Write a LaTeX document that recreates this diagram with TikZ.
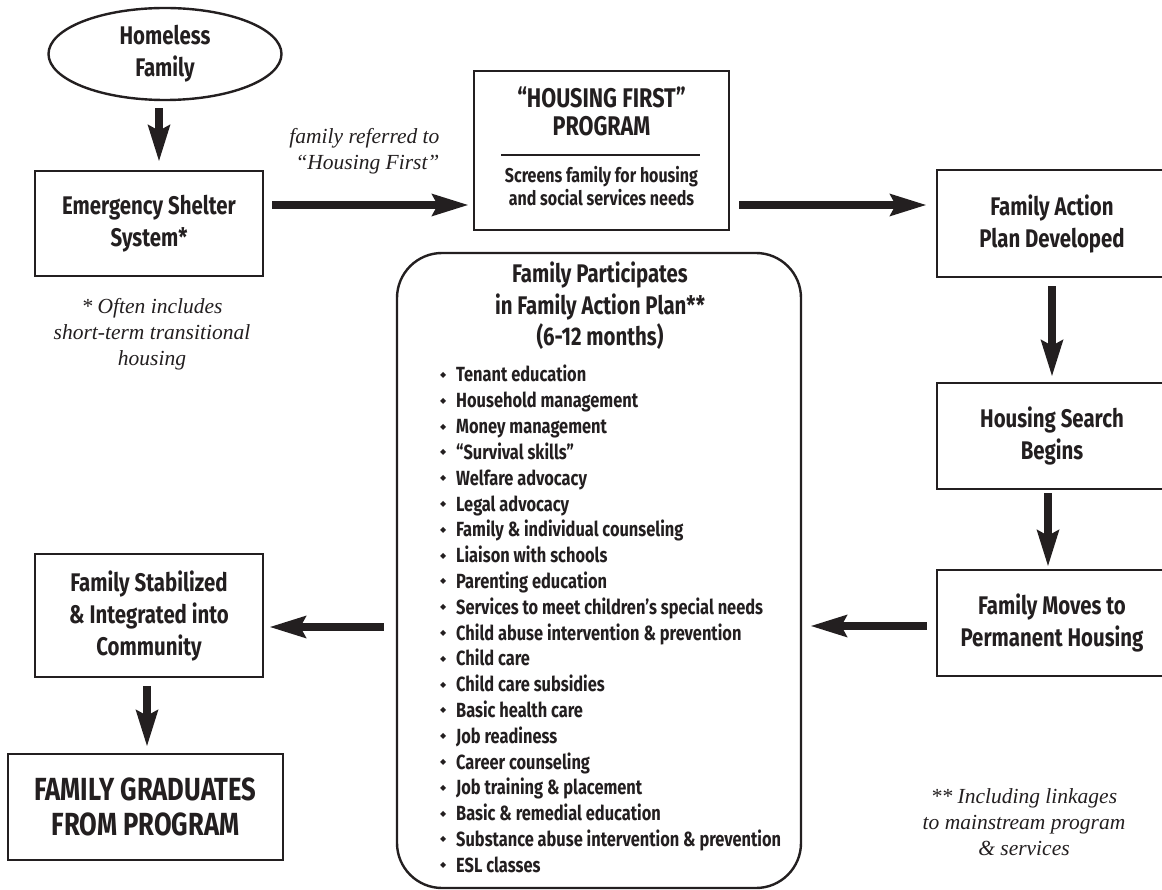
\documentclass[tikz,border=0pt]{standalone}
\usepackage{fontspec}
\setmainfont{Liberation Serif}
\newfontfamily\cond{Fira Sans}[FakeStretch=0.8]
\newfontfamily\symf{DejaVu Sans}
\usetikzlibrary{arrows.meta,shapes.geometric}
\definecolor{ink}{HTML}{231F20}
\newcommand\bul{\makebox[16pt][l]{\raisebox{4.5pt}{\symf\fontsize{8}{8}\selectfont ◆}}}
\tikzset{
 box/.style={draw=ink, line width=2.4pt, rectangle, inner sep=0pt},
 head/.style={font=\cond\bfseries\fontsize{25.5}{32}\selectfont, align=center, text=ink},
 subhead/.style={font=\cond\bfseries\fontsize{20}{22.5}\selectfont, align=center, text=ink},
 note/.style={font=\itshape\fontsize{21.5}{26}\selectfont, align=center, text=ink},
 bigarrow/.style={draw=ink, line width=8pt, -{Stealth[length=36pt,width=21pt,inset=5pt]}},
 item/.style={font=\cond\bfseries\fontsize{20.5}{22}\selectfont, anchor=base west, inner sep=0pt, text=ink},
}
\begin{document}
\begin{tikzpicture}[x=1pt,y=-1pt]
\useasboundingbox (0,0) rectangle (1162,890);
\clip (0,0) rectangle (1162,890);
\fill[white] (0,0) rectangle (1162,890);

% nodes
\node[ellipse, draw=ink, line width=2.4pt, minimum width=233pt, minimum height=92pt, inner sep=0pt, head] (home) at (165,54) {Homeless\\Family};
\node[box, minimum width=228pt, minimum height=105pt, head] (es) at (149,223.5) {Emergency Shelter\\System*};
\node[note] (esnote) at (152,334) {* Often includes\\short-term transitional\\housing};
\node[note, align=right, anchor=east] (ref) at (443,151) {family referred to\\“Housing First”};

\node[box, minimum width=255pt, minimum height=159pt] (hf) at (601.5,150.5) {};
\node[head, font=\cond\bfseries\fontsize{27}{28}\selectfont] (hft) at (601.5,111) {“HOUSING FIRST”\\PROGRAM};
\draw[ink, line width=1.8pt] (501,155) -- (700,155);
\node[subhead] (hfs) at (601.5,186) {Screens family for housing\\and social services needs};

\node[box, minimum width=230pt, minimum height=107pt, head] (fap) at (1052,223.5) {Family Action\\Plan Developed};
\node[box, minimum width=230pt, minimum height=106pt, head] (hsb) at (1052,436) {Housing Search\\Begins};
\node[box, minimum width=230pt, minimum height=106pt, head] (fmp) at (1052,623) {Family Moves to\\Permanent Housing};

\node[box, rounded corners=45pt, minimum width=404pt, minimum height=635pt] (fp) at (599,570.5) {};
\node[head, font=\cond\bfseries\fontsize{25.5}{31.5}\selectfont] (fpt) at (600,306) {Family Participates\\in Family Action Plan**\\(6-12 months)};
\foreach [count=\i] \t in {Tenant education, Household management, Money management, “Survival skills”, Welfare advocacy, Legal advocacy, Family \& individual counseling, Liaison with schools, Parenting education, Services to meet children’s special needs, Child abuse intervention \& prevention, Child care, Child care subsidies, Basic health care, Job readiness, Career counseling, Job training \& placement, Basic \& remedial education, Substance abuse intervention \& prevention, ESL classes}
  \node[item] (it\i) at (440,{382+(\i-1)*25.8}) {\bul\t};

\node[box, minimum width=228pt, minimum height=123pt, head] (fsi) at (149,615.5) {Family Stabilized\\\& Integrated into\\Community};
\node[box, minimum width=275pt, minimum height=106pt, head, font=\cond\bfseries\fontsize{32}{35}\selectfont] (fg) at (145.5,807) {FAMILY GRADUATES\\FROM PROGRAM};
\node[note] (note2) at (1024,822) {** Including linkages\\to mainstream program\\\& services};

% connectors
\draw[bigarrow] ([xshift=-6pt,yshift=-7pt]home.south) -- ([xshift=10pt,yshift=8pt]es.north);
\draw[bigarrow] ([xshift=8pt,yshift=18.5pt]es.east) -- ([xshift=-4pt,yshift=-54.5pt]hf.west);
\draw[bigarrow] ([xshift=9pt,yshift=-54.5pt]hf.east) -- ([xshift=-9pt,yshift=18.5pt]fap.west);
\draw[bigarrow] ([yshift=-8pt]fap.south) -- ([yshift=5pt]hsb.north);
\draw[bigarrow] ([xshift=-4pt,yshift=-3pt]hsb.south) -- ([xshift=-4pt,yshift=2pt]fmp.north);
\draw[bigarrow] ([xshift=-9pt,yshift=-3pt]fmp.west) -- ([xshift=8pt,yshift=-55.5pt]fp.east);
\draw[bigarrow] ([xshift=-12pt,yshift=-56.5pt]fp.west) -- ([xshift=5pt,yshift=-11.5pt]fsi.east);
\draw[bigarrow] ([xshift=-2pt,yshift=-8pt]fsi.south) -- ([xshift=1.5pt,yshift=6pt]fg.north);
\end{tikzpicture}
\end{document}
